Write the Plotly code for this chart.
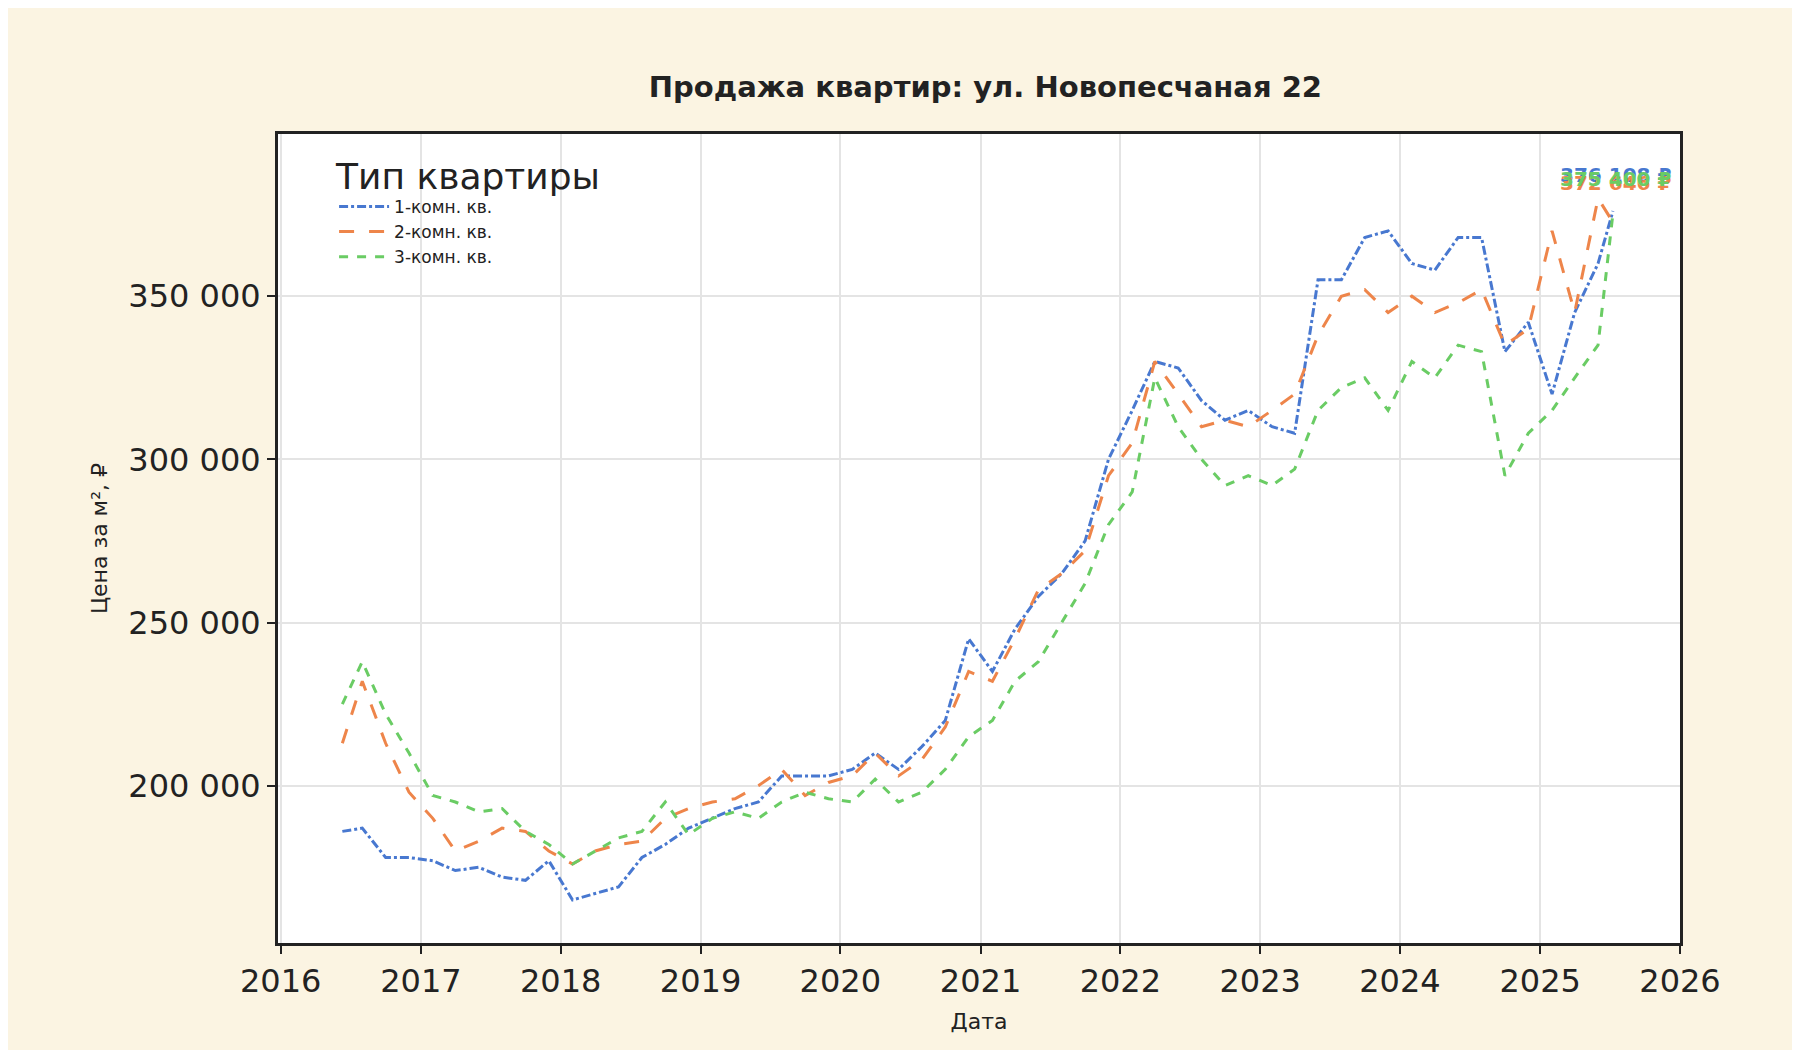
import plotly.graph_objects as go

dates = ["2016-06-10","2016-08-01","2016-10-01","2016-12-01","2017-02-01","2017-04-01","2017-06-01","2017-08-01",
"2017-10-01","2017-12-01","2018-02-01","2018-04-01","2018-06-01","2018-08-01","2018-10-01","2018-12-01",
"2019-02-01","2019-04-01","2019-06-01","2019-08-01","2019-10-01","2019-12-01","2020-02-01","2020-04-01",
"2020-06-01","2020-08-01","2020-10-01","2020-12-01","2021-02-01","2021-04-01","2021-06-01","2021-08-01",
"2021-10-01","2021-12-01","2022-02-01","2022-04-01","2022-06-01","2022-08-01","2022-10-01","2022-12-01",
"2023-02-01","2023-04-01","2023-06-01","2023-08-01","2023-10-01","2023-12-01","2024-02-01","2024-04-01",
"2024-06-01","2024-08-01","2024-10-01","2024-12-01","2025-02-01","2025-04-01","2025-06-01","2025-07-10"]

room1 = [186,187,178,178,177,174,175,172,171,177,165,167,169,178,182,187,190,193,195,203,203,203,205,210,
         205,212,220,245,235,248,258,265,275,300,315,330,328,318,312,315,310,308,355,355,368,370,360,358,
         368,368,333,342,320,345,360,376.108]
room2 = [213,232,213,198,190,180,183,187,186,180,176,180,182,183,190,193,195,196,200,205,197,201,203,210,
         203,208,218,235,232,245,260,265,272,295,305,330,320,310,312,310,315,320,338,350,352,345,350,345,
         348,352,335,340,370,345,380,372.646]
room3 = [225,238,222,210,197,195,192,193,186,182,176,180,184,186,195,185,190,192,190,195,198,196,195,202,
         195,198,205,215,220,232,238,250,262,280,290,325,310,300,292,295,292,297,315,322,325,315,330,325,
         335,333,295,308,315,325,335,375.4]

names = ["1-комн. кв.", "2-комн. кв.", "3-комн. кв."]
colors = ["#4878d0", "#ee854a", "#6acc64"]
dashes = ["dashdot", "longdash", "dash"]
end_labels = ["376 108 ₽", "372 646 ₽", "375 400 ₽"]
series = [room1, room2, room3]

fig = go.Figure()
for n, c, d, s in zip(names, colors, dashes, series):
    fig.add_trace(go.Scatter(x=dates, y=[v*1000 for v in s], name=n, mode="lines",
                             line=dict(color=c, dash=d, width=3)))

for lab, c, yy in zip(end_labels, colors, [0.967, 0.957, 0.962]):
    fig.add_annotation(x=0.995, xref="paper", y=yy, yref="paper", text="<b>"+lab+"</b>",
                       showarrow=False, xanchor="right", font=dict(color=c, size=20, family="DejaVu Sans"))

fig.update_layout(
    width=1800, height=1050,
    paper_bgcolor="#fbf4e2", plot_bgcolor="white",
    margin=dict(l=270, r=128, t=126, b=115),
    font=dict(family="DejaVu Sans", color="#222"),
    title=dict(text="<b>Продажа квартир: ул. Новопесчаная 22</b>", x=0.543, y=0.935,
               xanchor="center", font=dict(size=29, color="#222")),
    legend=dict(x=0.04, y=0.99, xanchor="left", yanchor="top", bgcolor="rgba(255,255,255,0)",
                title=dict(text="Тип квартиры", font=dict(size=36)), font=dict(size=17),
                itemwidth=50),
    showlegend=True,
)
fig.update_xaxes(range=["2015-12-25", "2026-01-01"], dtick="M12", tickformat="%Y",
                 showline=True, linecolor="#222", linewidth=3, mirror=True,
                 ticks="outside", ticklen=8, tickwidth=2, tickcolor="#222",
                 showgrid=True, gridcolor="#e4e4e4", gridwidth=1.5,
                 tickfont=dict(size=32), title=dict(text="Дата", font=dict(size=22)))
fig.update_yaxes(range=[151800, 399700], tickvals=[200000, 250000, 300000, 350000],
                 ticktext=["200 000", "250 000", "300 000", "350 000"],
                 showline=True, linecolor="#222", linewidth=3, mirror=True,
                 ticks="outside", ticklen=8, tickwidth=2, tickcolor="#222",
                 showgrid=True, gridcolor="#e4e4e4", gridwidth=1.5, zeroline=False,
                 tickfont=dict(size=32), title=dict(text="Цена за м², ₽", font=dict(size=22), standoff=15))
fig.write_html("out.html")
